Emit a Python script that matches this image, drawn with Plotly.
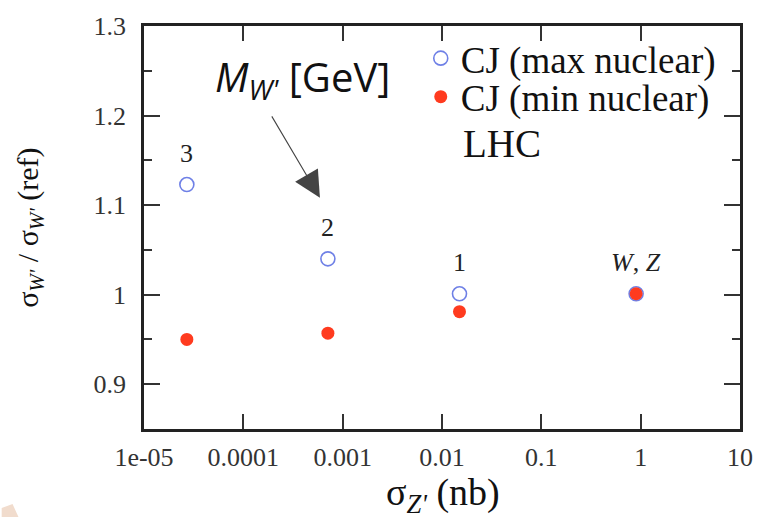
import math
import plotly.graph_objects as go

# ---- data ----
sigma_z = [2.7e-5, 7.1e-4, 0.015, 0.9]          # sigma_Z' (nb)
point_labels = ["3", "2", "1", "<i>W</i>, <i>Z</i>"]
ratio_max_nuclear = [1.123, 1.040, 1.001, 1.001]
ratio_min_nuclear = [0.950, 0.957, 0.981, 1.001]
x_tickvals = [1e-5, 1e-4, 1e-3, 1e-2, 1e-1, 1, 10]
x_ticktext = ["1e-05", "0.0001", "0.001", "0.01", "0.1", "1", "10"]
y_tickvals = [0.9, 1.0, 1.1, 1.2, 1.3]
y_ticktext = ["0.9", "1", "1.1", "1.2", "1.3"]
y_minorvals = [0.95, 1.05, 1.15, 1.25]

SERIF = "Liberation Serif, Times New Roman, serif"
BLUE = "#6f80e6"
RED = "#ff3b1f"

# plot-area pixel geometry (for placing free text)
PL, PR, PT, PB = 144, 747, 21, 429
def px(xp):
    return (xp - PL) / (PR - PL)
def py(yp):
    return (PB - yp) / (PB - PT)

fig = go.Figure()
fig.add_trace(go.Scatter(
    x=sigma_z, y=ratio_max_nuclear, mode="markers", name="CJ (max nuclear)",
    marker=dict(symbol="circle-open", size=14, color=BLUE, line=dict(width=1.6, color=BLUE)),
    legend="legend",
))
fig.add_trace(go.Scatter(
    x=sigma_z, y=ratio_min_nuclear, mode="markers", name="CJ (min nuclear)",
    marker=dict(symbol="circle", size=13, color=RED),
    legend="legend2",
))

# point labels above max-nuclear points
for xv, yv, lab in zip(sigma_z, ratio_max_nuclear, point_labels):
    fig.add_annotation(x=math.log10(xv), y=yv, text=lab, showarrow=False,
                       xanchor="center", yanchor="middle",
                       yshift=31, font=dict(family=SERIF, size=26, color="#222"))

# LHC label
fig.add_annotation(xref="paper", yref="paper", x=px(465), y=py(140),
                   xanchor="left", yanchor="middle", text="LHC", showarrow=False,
                   font=dict(family=SERIF, size=39, color="#111"))

# M_W' [GeV] annotation with arrow
fig.add_annotation(xref="paper", yref="paper", x=px(304), y=py(74),
                   xanchor="center", yanchor="middle",
                   text="<i>M</i><sub><i>W'</i></sub> [GeV]", showarrow=False,
                   font=dict(family="Open Sans, Noto Sans, sans-serif", size=40, color="#111"))
fig.add_annotation(xref="paper", yref="paper", x=px(322), y=py(195),
                   text="", showarrow=True, ax=-49, ay=-83,
                   arrowhead=2, arrowsize=4.8, arrowwidth=1.1, arrowcolor="#444")

# y title
fig.add_annotation(xref="paper", yref="paper", x=px(28), y=0.5,
                   xanchor="center", yanchor="middle",
                   text="σ<sub><i>W'</i></sub> / σ<sub><i>W'</i></sub> (ref)", textangle=-90,
                   showarrow=False, font=dict(family=SERIF, size=30, color="#111"))
# x title
fig.add_annotation(xref="paper", yref="paper", x=px(447), y=py(496),
                   xanchor="center", yanchor="middle",
                   text="σ<sub><i>Z'</i></sub> (nb)", showarrow=False,
                   font=dict(family=SERIF, size=38, color="#111"))

# faint shape in bottom-left corner
fig.add_shape(type="path", xref="paper", yref="paper",
              path=(f"M {px(0)} {py(509)} L {px(11)} {py(505)} L {px(17)} {py(518)} "
                    f"L {px(0)} {py(518)} Z"),
              fillcolor="#f1dccd", line=dict(width=0), layer="below")

axis_common = dict(
    showline=True, linewidth=2.5, linecolor="#222", mirror="ticks",
    ticks="inside", tickwidth=2, tickcolor="#333", showgrid=False, zeroline=False,
    tickfont=dict(family=SERIF, size=26, color="#333"),
)

fig.update_layout(
    width=765, height=518,
    margin=dict(l=PL, r=765 - PR, t=PT, b=518 - PB),
    paper_bgcolor="white", plot_bgcolor="white",
    showlegend=True,
    xaxis=dict(type="log", range=[-5, 1], tickvals=x_tickvals, ticktext=x_ticktext,
               ticklen=15, ticklabelstandoff=3, **axis_common),
    yaxis=dict(range=[0.85, 1.3], tickvals=y_tickvals, ticktext=y_ticktext,
               ticklen=16, ticklabelstandoff=10,
               minor=dict(tickvals=y_minorvals, ticklen=8, ticks="inside", tickwidth=2, tickcolor="#333"),
               **axis_common),
    legend=dict(x=px(424), y=py(54), xanchor="left", yanchor="middle",
                bgcolor="rgba(0,0,0,0)", font=dict(family=SERIF, size=37, color="#111")),
    legend2=dict(x=px(424), y=py(93), xanchor="left", yanchor="middle",
                 bgcolor="rgba(0,0,0,0)", font=dict(family=SERIF, size=37, color="#111")),
)

fig.write_html("out.html", config={"displayModeBar": False},
               post_script="document.body.style.margin='0';")
